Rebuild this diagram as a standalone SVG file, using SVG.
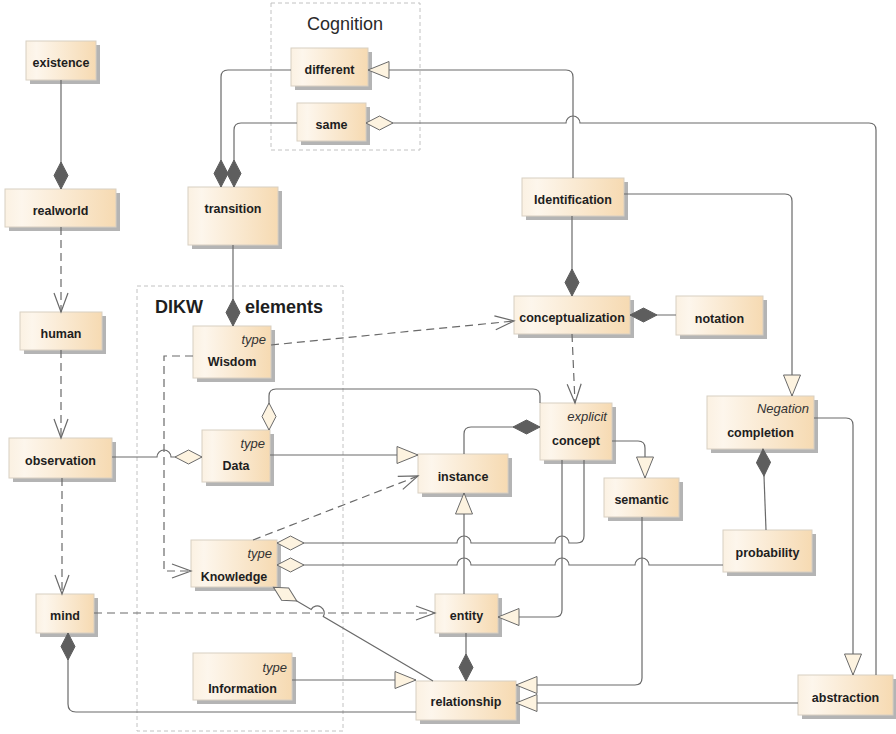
<svg xmlns="http://www.w3.org/2000/svg" width="896" height="734" viewBox="0 0 896 734">
  <defs>
    <linearGradient id="fillBox" x1="0" y1="0" x2="1" y2="0">
      <stop offset="0" stop-color="#fbf1e2"/>
      <stop offset="0.15" stop-color="#fdf6ec"/>
      <stop offset="1" stop-color="#f6dab2"/>
    </linearGradient>
    <!-- composition: filled diamond -->
    <marker id="dFill" markerUnits="userSpaceOnUse" markerWidth="30" markerHeight="16" refX="27" refY="7" orient="auto" overflow="visible">
      <path d="M0,7 L13.5,0 L27,7 L13.5,14 Z" fill="#5e5e5e" stroke="#5e5e5e" stroke-width="1"/>
    </marker>
    <!-- aggregation: hollow diamond -->
    <marker id="dHollow" markerUnits="userSpaceOnUse" markerWidth="30" markerHeight="16" refX="27" refY="7" orient="auto" overflow="visible">
      <path d="M0,7 L13.5,0 L27,7 L13.5,14 Z" fill="#fdf3e0" stroke="#6a6a6a" stroke-width="1"/>
    </marker>
    <!-- generalization: hollow triangle -->
    <marker id="tri" markerUnits="userSpaceOnUse" markerWidth="24" markerHeight="20" refX="21" refY="8.5" orient="auto" overflow="visible">
      <path d="M0,0 L21,8.5 L0,17 Z" fill="#fdf3e0" stroke="#6a6a6a" stroke-width="1"/>
    </marker>
    <!-- dependency: open arrowhead -->
    <marker id="vee" markerUnits="userSpaceOnUse" markerWidth="22" markerHeight="16" refX="19" refY="7" orient="auto" overflow="visible">
      <path d="M0,0 L19,7 L0,14" fill="none" stroke="#6a6a6a" stroke-width="1.2"/>
    </marker>
  </defs>
  <style>
    .sh { fill: #b4b4b4; }
    .bx { fill: url(#fillBox); stroke: #d8cfc2; stroke-width: 1; }
    .lb { font-family: "Liberation Sans", Arial, sans-serif; font-weight: bold; font-size: 12.5px; text-anchor: middle; fill: #1e1e1e; }
    .st { font-family: "Liberation Sans", Arial, sans-serif; font-style: italic; font-size: 13px; text-anchor: end; fill: #333; }
    .frame { fill: none; stroke: #c2c2c2; stroke-width: 1; stroke-dasharray: 4 3; }
    .c { fill: none; stroke: #6a6a6a; stroke-width: 1.2; }
    .d { stroke-dasharray: 8 5; }
  </style>

  <rect width="896" height="734" fill="#ffffff"/>

  <!-- package frames -->
  <g id="pkg-cognition">
    <rect class="frame" x="271" y="3" width="149" height="147"/>
    <text x="345" y="30" font-family="'Liberation Sans', Arial, sans-serif" font-size="18" text-anchor="middle" fill="#2a2a2a">Cognition</text>
  </g>
  <g id="pkg-dikw">
    <rect class="frame" x="137" y="286" width="206" height="445"/>
    <text y="313" font-family="'Liberation Sans', Arial, sans-serif" font-size="18" font-weight="bold" fill="#1e1e1e"><tspan x="155">DIKW</tspan> <tspan x="245">elements</tspan></text>
  </g>

  <!-- classes -->
  <g id="n-existence"><rect class="sh" x="30" y="45" width="70" height="39"/><rect class="bx" x="26" y="41" width="70" height="39"/><text class="lb" x="61" y="67">existence</text></g>
  <g id="n-realworld"><rect class="sh" x="9" y="193" width="111" height="38"/><rect class="bx" x="5" y="189" width="111" height="38"/><text class="lb" x="60.5" y="215">realworld</text></g>
  <g id="n-different"><rect class="sh" x="295" y="52" width="77" height="38"/><rect class="bx" x="291" y="48" width="77" height="38"/><text class="lb" x="329.5" y="74">different</text></g>
  <g id="n-same"><rect class="sh" x="301" y="107" width="69" height="38"/><rect class="bx" x="297" y="103" width="69" height="38"/><text class="lb" x="331.5" y="129">same</text></g>
  <g id="n-transition"><rect class="sh" x="192" y="191" width="90" height="58"/><rect class="bx" x="188" y="187" width="90" height="58"/><text class="lb" x="233" y="213">transition</text></g>
  <g id="n-identification"><rect class="sh" x="526" y="182" width="102" height="38"/><rect class="bx" x="522" y="178" width="102" height="38"/><text class="lb" x="573" y="204">Identification</text></g>
  <g id="n-conceptualization"><rect class="sh" x="518" y="300" width="116" height="38"/><rect class="bx" x="514" y="296" width="116" height="38"/><text class="lb" x="572" y="322">conceptualization</text></g>
  <g id="n-notation"><rect class="sh" x="680" y="300" width="87" height="39"/><rect class="bx" x="676" y="296" width="87" height="39"/><text class="lb" x="719.5" y="322.5">notation</text></g>
  <g id="n-human"><rect class="sh" x="24" y="316" width="82" height="38"/><rect class="bx" x="20" y="312" width="82" height="38"/><text class="lb" x="61" y="338">human</text></g>
  <g id="n-wisdom"><rect class="sh" x="197" y="330" width="78" height="52"/><rect class="bx" x="193" y="326" width="78" height="52"/><text class="st" x="266" y="344">type</text><text class="lb" x="232" y="366">Wisdom</text></g>
  <g id="n-observation"><rect class="sh" x="13" y="442" width="103" height="40"/><rect class="bx" x="9" y="438" width="103" height="40"/><text class="lb" x="60.5" y="465">observation</text></g>
  <g id="n-data"><rect class="sh" x="206" y="434" width="68" height="52"/><rect class="bx" x="202" y="430" width="68" height="52"/><text class="st" x="265" y="448">type</text><text class="lb" x="236" y="470">Data</text></g>
  <g id="n-instance"><rect class="sh" x="422" y="458" width="90" height="39"/><rect class="bx" x="418" y="454" width="90" height="39"/><text class="lb" x="463" y="481">instance</text></g>
  <g id="n-concept"><rect class="sh" x="544" y="407" width="72" height="57"/><rect class="bx" x="540" y="403" width="72" height="57"/><text class="st" x="607" y="421">explicit</text><text class="lb" x="576" y="445">concept</text></g>
  <g id="n-semantic"><rect class="sh" x="608" y="482" width="75" height="39"/><rect class="bx" x="604" y="478" width="75" height="39"/><text class="lb" x="641.5" y="504">semantic</text></g>
  <g id="n-completion"><rect class="sh" x="711" y="400" width="107" height="53"/><rect class="bx" x="707" y="396" width="107" height="53"/><text class="st" x="809" y="413">Negation</text><text class="lb" x="760.5" y="437">completion</text></g>
  <g id="n-probability"><rect class="sh" x="727" y="534" width="89" height="42"/><rect class="bx" x="723" y="530" width="89" height="42"/><text class="lb" x="767.5" y="557">probability</text></g>
  <g id="n-knowledge"><rect class="sh" x="195" y="544" width="86" height="47"/><rect class="bx" x="191" y="540" width="86" height="47"/><text class="st" x="272" y="558">type</text><text class="lb" x="234" y="581">Knowledge</text></g>
  <g id="n-mind"><rect class="sh" x="40" y="598" width="58" height="39"/><rect class="bx" x="36" y="594" width="58" height="39"/><text class="lb" x="65" y="620">mind</text></g>
  <g id="n-entity"><rect class="sh" x="439" y="598" width="63" height="39"/><rect class="bx" x="435" y="594" width="63" height="39"/><text class="lb" x="466.5" y="620">entity</text></g>
  <g id="n-information"><rect class="sh" x="197" y="657" width="99" height="47"/><rect class="bx" x="193" y="653" width="99" height="47"/><text class="st" x="287" y="672">type</text><text class="lb" x="242.5" y="693">Information</text></g>
  <g id="n-relationship"><rect class="sh" x="420" y="685" width="100" height="39"/><rect class="bx" x="416" y="681" width="100" height="39"/><text class="lb" x="466" y="706">relationship</text></g>
  <g id="n-abstraction"><rect class="sh" x="802" y="679" width="95" height="40"/><rect class="bx" x="798" y="675" width="95" height="40"/><text class="lb" x="845.5" y="702">abstraction</text></g>

  <!-- associations -->
  <g id="connectors">
    <path class="c" d="M61,80 V189" marker-end="url(#dFill)"/>
    <path class="c d" d="M61,227 V312" marker-end="url(#vee)"/>
    <path class="c d" d="M61,350 V438" marker-end="url(#vee)"/>
    <path class="c d" d="M62,478 V594" marker-end="url(#vee)"/>
    <path class="c d" d="M94,613 H435" marker-end="url(#vee)"/>
    <path class="c" d="M416,712 H76 Q68,712 68,704 V633" marker-end="url(#dFill)"/>
    <path class="c" d="M291,70 H228 Q221,70 221,77 V187" marker-end="url(#dFill)"/>
    <path class="c" d="M297,123 H241 Q234,123 234,130 V187" marker-end="url(#dFill)"/>
    <path class="c" d="M233,245 V326" marker-end="url(#dFill)"/>
    <path class="c" d="M573,178 V77 Q573,70 566,70 H368" marker-end="url(#tri)"/>
    <path class="c" d="M876,675 V130 Q876,123 869,123 H580 a7,7 0 0 0 -14,0 H366" marker-end="url(#dHollow)"/>
    <path class="c" d="M572,216 V296" marker-end="url(#dFill)"/>
    <path class="c" d="M624,194 H785 Q792,194 792,201 V396" marker-end="url(#tri)"/>
    <path class="c" d="M676,315 H630" marker-end="url(#dFill)"/>
    <path class="c d" d="M271,345 L514,321" marker-end="url(#vee)"/>
    <path class="c d" d="M193,356 H164 V571 H191" marker-end="url(#vee)"/>
    <path class="c" d="M112,457 H157 a7,7 0 0 1 14,0 H202" marker-end="url(#dHollow)"/>
    <path class="c" d="M540,403 V396 Q540,389 533,389 H276 Q269,389 269,396 V430" marker-end="url(#dHollow)"/>
    <path class="c" d="M270,455 H418" marker-end="url(#tri)"/>
    <path class="c d" d="M253,540 L418,476" marker-end="url(#vee)"/>
    <path class="c" d="M464,454 V434 Q464,427 471,427 H540" marker-end="url(#dFill)"/>
    <path class="c" d="M612,441 H638 Q645,441 645,448 V478" marker-end="url(#tri)"/>
    <path class="c d" d="M572,334 L575,403" marker-end="url(#vee)"/>
    <path class="c" d="M584,460 V536 Q584,543 577,543 H569 a7,7 0 0 0 -14,0 H471 a7,7 0 0 0 -14,0 H277" marker-end="url(#dHollow)"/>
    <path class="c" d="M723,565 H649 a7,7 0 0 0 -14,0 H569 a7,7 0 0 0 -14,0 H471 a7,7 0 0 0 -14,0 H277" marker-end="url(#dHollow)"/>
    <path class="c" d="M562,460 V610 Q562,617 555,617 H498" marker-end="url(#tri)"/>
    <path class="c" d="M464,594 V493" marker-end="url(#tri)"/>
    <path class="c" d="M466,633 V681" marker-end="url(#dFill)"/>
    <path class="c" d="M292,680 H416" marker-end="url(#tri)"/>
    <path class="c" d="M433,681 L323.3,616.5 a7,7 0 0 0 -12.1,-7.1 L273.5,587.3" marker-end="url(#dHollow)"/>
    <path class="c" d="M642,517 V678 Q642,685 635,685 H516" marker-end="url(#tri)"/>
    <path class="c" d="M798,703 H516" marker-end="url(#tri)"/>
    <path class="c" d="M814,418 H846 Q853,418 853,425 V675" marker-end="url(#tri)"/>
    <path class="c" d="M766,530 L763,449" marker-end="url(#dFill)"/>
  </g>
</svg>
